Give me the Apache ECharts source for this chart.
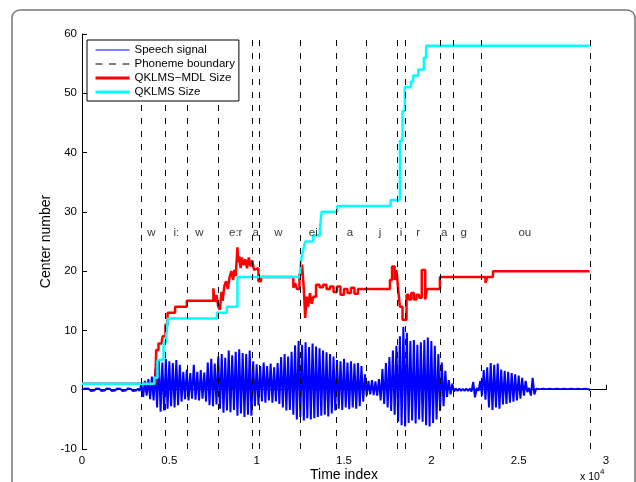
<!DOCTYPE html>
<html><head><meta charset="utf-8">
<script src="https://cdn.jsdelivr.net/npm/echarts@6/dist/echarts.min.js"></script>
<style>html,body{margin:0;padding:0;background:#fff}#c{width:636px;height:482px}</style>
</head><body><div id="c"></div>
<script>
// Speech signal: alternating peak / trough values, one every 100 samples
const sigStart = 0, sigStep = 100;
const sigV = [
 0.1,-0.15,0.2,-0.1,0.15,-0.2,0.1,-0.15,0.2,-0.1,
 0.15,-0.2,0.1,-0.15,0.2,-0.1,0.15,-0.2,0.1,-0.15,
 0.2,-0.1,0.15,-0.2,0.1,-0.15,0.2,-0.1,0.15,-0.2,
 0.1,-0.15,0.2,-0.2,1.0,-1.2,1.5,-1.0,1.8,-1.6,
 2.2,-1.8,3.5,-3.0,5.0,-3.7,4.6,-3.5,5.2,-3.2,
 4.8,-2.8,4.5,-3.0,5.0,-2.6,4.2,-2.0,3.0,-1.6,
 3.4,-1.8,2.8,-1.5,4.2,-1.7,3.0,-1.8,3.3,-1.5,
 2.9,-2.0,4.6,-2.6,5.2,-2.8,4.4,-2.5,5.6,-3.2,
 6.0,-3.9,5.4,-3.5,6.6,-3.8,5.8,-3.4,6.4,-4.4,
 6.8,-4.0,6.2,-4.6,6.0,-4.2,6.6,-4.4,4.8,-2.8,
 4.3,-2.6,4.0,-2.0,4.6,-2.2,4.0,-1.8,4.4,-2.2,
 3.8,-2.0,4.5,-2.4,5.5,-3.0,6.0,-3.5,5.6,-3.4,
 6.4,-4.2,7.5,-5.0,8.2,-4.6,7.6,-5.2,8.0,-4.8,
 7.2,-5.0,7.8,-4.8,7.3,-4.6,7.0,-4.4,6.6,-4.2,
 6.3,-4.5,6.0,-4.0,5.6,-3.5,5.0,-3.2,4.8,-3.4,
 5.2,-3.0,4.6,-3.3,4.8,-3.0,4.4,-3.2,4.5,-2.8,
 4.0,-2.0,2.6,-1.0,1.5,-0.8,1.6,-0.9,1.4,-1.0,
 1.8,-1.8,3.5,-2.4,4.5,-3.0,5.5,-3.6,6.6,-4.2,
 7.4,-5.4,9.0,-6.0,10.6,-6.2,9.6,-5.6,8.2,-5.2,
 8.4,-5.7,7.6,-5.0,8.0,-5.4,8.4,-6.0,8.8,-6.2,
 8.2,-5.6,7.4,-5.0,6.0,-3.6,4.6,-2.8,3.2,-1.2,
 1.6,-0.8,1.0,-0.3,0.2,-0.2,0.2,-0.2,0.15,-0.2,
 0.2,-0.2,0.2,-0.3,1.3,-1.3,0.3,-0.2,1.5,-1.0,
 3.3,-1.7,3.8,-3.0,4.5,-3.4,4.2,-3.0,4.4,-3.2,
 3.4,-2.5,3.2,-2.4,3.0,-2.2,2.8,-2.0,2.6,-1.8,
 2.4,-1.5,2.0,-1.0,1.5,-0.4,0.3,-1.0,2.0,-0.8,
 0.15,-0.1,0.1,-0.15,0.15,-0.1,0.1,-0.15,0.15,-0.1,
 0.1,-0.15,0.15,-0.1,0.1,-0.15,0.15,-0.1,0.1,-0.15,
 0.15,-0.1,0.1,-0.15,0.15,-0.1,0.1,-0.15,0.15,-0.1,
 0.1,-0.1
];
// Phoneme boundaries (time index)
const boundaries = [3390,4750,6040,7810,9720,10150,12480,14540,16300,18070,18520,20490,21250,22870,29100];
// Phoneme labels
const phonemes = ['w','i:','w','e:r','a','w','ei','a','j','i','r','a','g','ou'];
const phonemeX = [3970,5400,6720,8800,9950,11240,13240,15340,17060,18260,19250,20730,21860,25350];
const phonemeY = 26.5;
// QKLMS-MDL size (change points)
const redT = [0,4200,4250,4380,4570,4620,4780,4900,5330,6000,
  7520,7580,7700,7800,7900,7980,8050,8150,8250,8350,8450,8550,8650,8720,8800,
  8900,8950,9000,9080,9150,9250,9350,9450,9550,9650,9750,9850,9950,10100,10250,
  12100,12200,12300,12450,12600,12700,12780,12860,12950,13050,13150,13250,13400,13600,13800,
  14000,14200,14400,14600,14800,15000,15200,15400,15600,15800,16100,
  17630,17750,17900,18000,18100,18200,18350,18580,18700,18850,19000,19150,19300,19450,19650,19750,19900,
  20490,23100,23200,23530,29060];
const redV = [1,2,6.7,7.8,8.2,9,11,13,14,15,
  17.1,15,16,14,13.5,16.5,15,17.5,18.3,17,19,20,18.5,20.2,19.2,
  24,21.5,22.5,20.5,22.3,21,22,20.5,22.3,20.8,21.8,20.2,20.5,18.3,19,
  17.2,18,17,19.5,21.1,17,12.1,15.7,14,16.3,14.5,15.7,17.7,17.3,17.7,
  17,17.4,16.5,17.4,16,17,16.3,17.2,16.2,17,17,
  18.5,20.8,18.5,20.2,17,14,11.8,16,15.2,16.3,15.2,16,15.5,20.2,15.2,17,17,
  19,18,19,20,20];
// QKLMS size (change points)
const cyanT = [0,4140,4320,4670,4820,4920,7720,8290,8900,12480,12550,12620,12700,12780,13240,13620,13680,13720,14610,17670,18200,18350,18480,18830,18960,19250,19570,19700,29060];
const cyanV = [1,2,5,8,9,12,13,14,19,20,22,23,24,25,26,27,29,30,31,32,42,47,51,52,53,54,56,58,58];

const FONT = '"Liberation Sans", Arial, Helvetica, sans-serif';
const chart = echarts.init(document.getElementById('c'), null, {renderer:'canvas'});

const zip = (a,b) => a.map((t,i)=>[t,b[i]]);

chart.setOption({
  animation:false,
  backgroundColor:'#fff',
  textStyle:{fontFamily:FONT},
  grid:{left:82, right:30, top:34, bottom:33, containLabel:false, outerBoundsMode:'none'},
  xAxis:{
    type:'value', min:0, max:30000, interval:5000,
    name:'Time index', nameLocation:'middle', nameGap:19, nameMoveOverlap:false,
    nameTextStyle:{fontSize:14, color:'#000', fontFamily:FONT},
    axisLine:{lineStyle:{color:'#000', width:1}},
    axisTick:{inside:true, length:5, lineStyle:{color:'#000'}},
    axisLabel:{fontSize:11.5, color:'#000', margin:6, fontFamily:FONT, formatter:v=>String(v/10000)},
    splitLine:{show:false}
  },
  yAxis:{
    type:'value', min:-10, max:60, interval:10,
    name:'Center number', nameLocation:'middle', nameGap:29, nameMoveOverlap:false,
    nameTextStyle:{fontSize:14, color:'#000', fontFamily:FONT},
    axisLine:{show:true, lineStyle:{color:'#000', width:1}},
    axisTick:{show:true, inside:true, length:5, lineStyle:{color:'#000'}},
    axisLabel:{fontSize:11.5, color:'#000', margin:5, fontFamily:FONT},
    splitLine:{show:false}
  },
  legend:{
    data:[
      {name:'Speech signal', lineStyle:{width:1}},
      {name:'Phoneme boundary', lineStyle:{width:1, type:[7,6.5]}},
      {name:'QKLMS\u2212MDL Size', lineStyle:{width:3}},
      {name:'QKLMS Size', lineStyle:{width:3}}
    ],
    orient:'vertical', left:87, top:40, z:20,
    backgroundColor:'#fff', borderColor:'#000', borderWidth:1,
    padding:[4,4,3,7], itemWidth:34, itemHeight:10, itemGap:2,
    itemStyle:{opacity:0},
    textStyle:{fontSize:11.5, color:'#000', fontFamily:FONT},
    selectedMode:false
  },
  graphic:[
    {type:'rect', shape:{x:12, y:10, width:623, height:510, r:8}, style:{fill:'none', stroke:'#777', lineWidth:1.5}, silent:true, z:-1},
    {type:'text', left:580, top:472, style:{text:'x 10', font:'10.5px '+FONT, fill:'#000'}},
    {type:'text', left:600, top:468, style:{text:'4', font:'8px '+FONT, fill:'#000'}}
  ],
  series:[
    {name:'Speech signal', type:'line', z:1, symbol:'none', showSymbol:false,
     lineStyle:{color:'#0000ff', width:2}, itemStyle:{color:'#0000ff'},
     data: sigV.map((v,i)=>[sigStart+i*sigStep, v])},
    {name:'Phoneme boundary', type:'line', z:2, symbol:'none', data:[],
     lineStyle:{color:'#000', width:1, type:[6,7]}, itemStyle:{color:'#000'},
     markLine:{silent:true, symbol:['none','none'], label:{show:false},
       lineStyle:{color:'#000', width:1, type:[6,7]},
       data: boundaries.map(b=>({xAxis:b}))}},
    {name:'QKLMS\u2212MDL Size', type:'line', z:3, step:'end', symbol:'none',
     lineStyle:{color:'#ff0000', width:2.5}, itemStyle:{color:'#ff0000'},
     data: zip(redT, redV)},
    {name:'QKLMS Size', type:'line', z:4, step:'end', symbol:'none',
     lineStyle:{color:'#00ffff', width:2.5}, itemStyle:{color:'#00ffff'},
     data: zip(cyanT, cyanV)},
    {name:'phonemes', type:'scatter', z:5, symbolSize:0, silent:true,
     label:{show:true, position:'inside', formatter:'{b}', fontSize:11.5, color:'#000', fontFamily:FONT},
     data: phonemes.map((p,i)=>({name:p, value:[phonemeX[i], phonemeY]}))}
  ]
});
</script></body></html>
